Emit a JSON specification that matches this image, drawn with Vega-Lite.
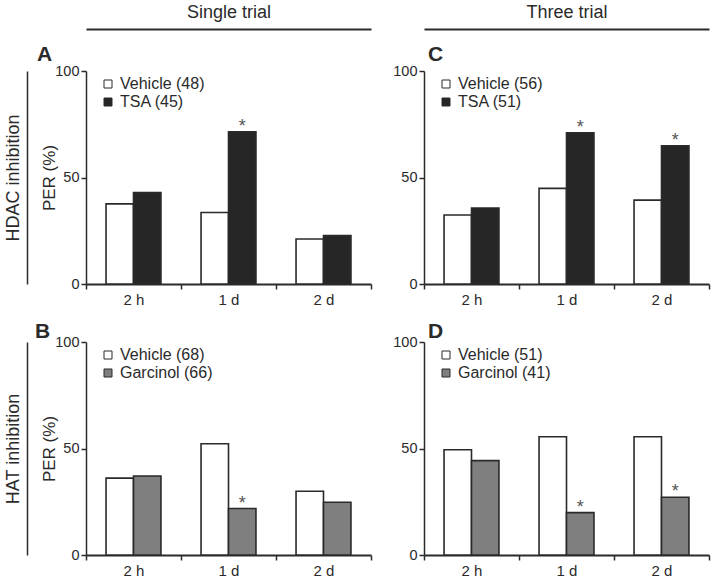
{
  "$schema": "https://vega.github.io/schema/vega-lite/v6.json",
  "background": "white",
  "padding": {"left": 4, "top": 3, "right": 2, "bottom": 2},
  "datasets": {
    "bars": [
      {"panel": "A", "time": "2 h", "grp": "1", "label": "Vehicle (48)", "value": 37.6, "star": ""},
      {"panel": "A", "time": "2 h", "grp": "2", "label": "TSA (45)", "value": 42.9, "star": ""},
      {"panel": "A", "time": "1 d", "grp": "1", "label": "Vehicle (48)", "value": 33.6, "star": ""},
      {"panel": "A", "time": "1 d", "grp": "2", "label": "TSA (45)", "value": 71.5, "star": "*"},
      {"panel": "A", "time": "2 d", "grp": "1", "label": "Vehicle (48)", "value": 21.1, "star": ""},
      {"panel": "A", "time": "2 d", "grp": "2", "label": "TSA (45)", "value": 22.7, "star": ""},
      {"panel": "C", "time": "2 h", "grp": "1", "label": "Vehicle (56)", "value": 32.4, "star": ""},
      {"panel": "C", "time": "2 h", "grp": "2", "label": "TSA (51)", "value": 35.7, "star": ""},
      {"panel": "C", "time": "1 d", "grp": "1", "label": "Vehicle (56)", "value": 44.9, "star": ""},
      {"panel": "C", "time": "1 d", "grp": "2", "label": "TSA (51)", "value": 71.0, "star": "*"},
      {"panel": "C", "time": "2 d", "grp": "1", "label": "Vehicle (56)", "value": 39.4, "star": ""},
      {"panel": "C", "time": "2 d", "grp": "2", "label": "TSA (51)", "value": 64.9, "star": "*"},
      {"panel": "B", "time": "2 h", "grp": "1", "label": "Vehicle (68)", "value": 36.1, "star": ""},
      {"panel": "B", "time": "2 h", "grp": "2", "label": "Garcinol (66)", "value": 37.1, "star": ""},
      {"panel": "B", "time": "1 d", "grp": "1", "label": "Vehicle (68)", "value": 52.2, "star": ""},
      {"panel": "B", "time": "1 d", "grp": "2", "label": "Garcinol (66)", "value": 21.8, "star": "*"},
      {"panel": "B", "time": "2 d", "grp": "1", "label": "Vehicle (68)", "value": 29.9, "star": ""},
      {"panel": "B", "time": "2 d", "grp": "2", "label": "Garcinol (66)", "value": 24.8, "star": ""},
      {"panel": "D", "time": "2 h", "grp": "1", "label": "Vehicle (51)", "value": 49.4, "star": ""},
      {"panel": "D", "time": "2 h", "grp": "2", "label": "Garcinol (41)", "value": 44.3, "star": ""},
      {"panel": "D", "time": "1 d", "grp": "1", "label": "Vehicle (51)", "value": 55.5, "star": ""},
      {"panel": "D", "time": "1 d", "grp": "2", "label": "Garcinol (41)", "value": 19.9, "star": "*"},
      {"panel": "D", "time": "2 d", "grp": "1", "label": "Vehicle (51)", "value": 55.5, "star": ""},
      {"panel": "D", "time": "2 d", "grp": "2", "label": "Garcinol (41)", "value": 27.1, "star": "*"}
    ]
  },
  "columns": 2,
  "bounds": "flush",
  "spacing": {"row": 58, "column": 53},
  "resolve": {
    "scale": {"x": "independent", "y": "independent", "xOffset": "independent", "fill": "independent"},
    "legend": {"fill": "independent"}
  },
  "concat": [
    {
      "width": 285, "height": 213,
      "title": {"text": "A", "anchor": "start", "frame": "group", "baseline": "alphabetic", "offset": 0, "dx": -49, "dy": 79, "fontSize": 21, "fontWeight": "bold", "color": "#2a2a2a"},
      "data": {"name": "bars"},
      "transform": [{"filter": "datum.panel === 'A'"}],
      "layer": [
        {
          "mark": {"type": "bar", "stroke": "#2a2a2a", "strokeWidth": 1.6},
          "encoding": {
            "x": {"field": "time", "type": "nominal", "sort": ["2 h", "1 d", "2 d"], "scale": {"paddingInner": 0, "paddingOuter": 0},
                  "axis": {"orient": "bottom", "title": null, "labelAngle": 0, "labelFontSize": 15, "labelPadding": 3, "tickSize": 5, "tickBand": "extent", "domainWidth": 2, "tickWidth": 1.5}},
            "xOffset": {"field": "grp", "type": "nominal", "scale": {"paddingInner": 0, "paddingOuter": 0.73}},
            "y": {"field": "value", "type": "quantitative", "scale": {"domain": [0, 100]},
                  "axis": {"orient": "left", "values": [0, 50, 100], "title": "PER (%)", "titleFontSize": 17, "titlePadding": -4, "tickSize": 5, "labelFontSize": 14.5, "labelPadding": 2, "domainWidth": 1.5, "tickWidth": 1.5}},
            "fill": {"field": "label", "type": "nominal", "scale": {"domain": ["Vehicle (48)", "TSA (45)"], "range": ["#ffffff", "#262626"]},
                     "legend": {"orient": "none", "legendX": 14, "legendY": 5, "title": null, "symbolType": "square", "symbolSize": 64, "symbolStrokeColor": "#2a2a2a", "symbolStrokeWidth": 1, "labelFontSize": 16, "labelOffset": 4, "rowPadding": 2, "padding": 0, "labelColor": "#2a2a2a"}}
          }
        },
        {
          "mark": {"type": "text", "baseline": "alphabetic", "dy": 0, "fontSize": 18, "color": "#555555"},
          "encoding": {
            "x": {"field": "time", "type": "nominal", "sort": ["2 h", "1 d", "2 d"],
                  "axis": {"orient": "top", "offset": 42, "ticks": false, "labels": false, "domainWidth": 2, "title": "Single trial", "titleFontSize": 18, "titlePadding": 8}},
            "xOffset": {"field": "grp", "type": "nominal"},
            "y": {"field": "value", "type": "quantitative",
                  "axis": {"orient": "left", "offset": 59, "ticks": false, "labels": false, "domainWidth": 1.5, "title": "HDAC inhibition", "titleFontSize": 18, "titlePadding": 5}},
            "text": {"field": "star"}
          }
        }
      ],
      "resolve": {"axis": {"x": "independent", "y": "independent"}}
    },
    {
      "width": 285, "height": 213,
      "title": {"text": "C", "anchor": "start", "frame": "group", "baseline": "alphabetic", "offset": 0, "dx": 4, "dy": 79, "fontSize": 21, "fontWeight": "bold", "color": "#2a2a2a"},
      "data": {"name": "bars"},
      "transform": [{"filter": "datum.panel === 'C'"}],
      "layer": [
        {
          "mark": {"type": "bar", "stroke": "#2a2a2a", "strokeWidth": 1.6},
          "encoding": {
            "x": {"field": "time", "type": "nominal", "sort": ["2 h", "1 d", "2 d"], "scale": {"paddingInner": 0, "paddingOuter": 0},
                  "axis": {"orient": "bottom", "title": null, "labelAngle": 0, "labelFontSize": 15, "labelPadding": 3, "tickSize": 5, "tickBand": "extent", "domainWidth": 2, "tickWidth": 1.5}},
            "xOffset": {"field": "grp", "type": "nominal", "scale": {"paddingInner": 0, "paddingOuter": 0.73}},
            "y": {"field": "value", "type": "quantitative", "scale": {"domain": [0, 100]},
                  "axis": {"orient": "left", "values": [0, 50, 100], "title": null, "tickSize": 5, "labelFontSize": 14.5, "labelPadding": 2, "domainWidth": 1.5, "tickWidth": 1.5}},
            "fill": {"field": "label", "type": "nominal", "scale": {"domain": ["Vehicle (56)", "TSA (51)"], "range": ["#ffffff", "#262626"]},
                     "legend": {"orient": "none", "legendX": 14, "legendY": 5, "title": null, "symbolType": "square", "symbolSize": 64, "symbolStrokeColor": "#2a2a2a", "symbolStrokeWidth": 1, "labelFontSize": 16, "labelOffset": 4, "rowPadding": 2, "padding": 0, "labelColor": "#2a2a2a"}}
          }
        },
        {
          "mark": {"type": "text", "baseline": "alphabetic", "dy": 0, "fontSize": 18, "color": "#555555"},
          "encoding": {
            "x": {"field": "time", "type": "nominal", "sort": ["2 h", "1 d", "2 d"],
                  "axis": {"orient": "top", "offset": 42, "ticks": false, "labels": false, "domainWidth": 2, "title": "Three trial", "titleFontSize": 18, "titlePadding": 8}},
            "xOffset": {"field": "grp", "type": "nominal"},
            "y": {"field": "value", "type": "quantitative", "axis": null},
            "text": {"field": "star"}
          }
        }
      ],
      "resolve": {"axis": {"x": "independent", "y": "independent"}}
    },
    {
      "width": 285, "height": 213,
      "title": {"text": "B", "anchor": "start", "frame": "group", "baseline": "alphabetic", "offset": 0, "dx": -51, "dy": 25, "fontSize": 21, "fontWeight": "bold", "color": "#2a2a2a"},
      "data": {"name": "bars"},
      "transform": [{"filter": "datum.panel === 'B'"}],
      "layer": [
        {
          "mark": {"type": "bar", "stroke": "#2a2a2a", "strokeWidth": 1.6},
          "encoding": {
            "x": {"field": "time", "type": "nominal", "sort": ["2 h", "1 d", "2 d"], "scale": {"paddingInner": 0, "paddingOuter": 0},
                  "axis": {"orient": "bottom", "title": null, "labelAngle": 0, "labelFontSize": 15, "labelPadding": 3, "tickSize": 5, "tickBand": "extent", "domainWidth": 2, "tickWidth": 1.5}},
            "xOffset": {"field": "grp", "type": "nominal", "scale": {"paddingInner": 0, "paddingOuter": 0.73}},
            "y": {"field": "value", "type": "quantitative", "scale": {"domain": [0, 100]},
                  "axis": {"orient": "left", "values": [0, 50, 100], "title": "PER (%)", "titleFontSize": 17, "titlePadding": -4, "tickSize": 5, "labelFontSize": 14.5, "labelPadding": 2, "domainWidth": 1.5, "tickWidth": 1.5}},
            "fill": {"field": "label", "type": "nominal", "scale": {"domain": ["Vehicle (68)", "Garcinol (66)"], "range": ["#ffffff", "#7f7f7f"]},
                     "legend": {"orient": "none", "legendX": 14, "legendY": 5, "title": null, "symbolType": "square", "symbolSize": 64, "symbolStrokeColor": "#2a2a2a", "symbolStrokeWidth": 1, "labelFontSize": 16, "labelOffset": 4, "rowPadding": 2, "padding": 0, "labelColor": "#2a2a2a"}}
          }
        },
        {
          "mark": {"type": "text", "baseline": "alphabetic", "dy": 0, "fontSize": 18, "color": "#555555"},
          "encoding": {
            "x": {"field": "time", "type": "nominal", "sort": ["2 h", "1 d", "2 d"], "axis": null},
            "xOffset": {"field": "grp", "type": "nominal"},
            "y": {"field": "value", "type": "quantitative",
                  "axis": {"orient": "left", "offset": 59, "ticks": false, "labels": false, "domainWidth": 1.5, "title": "HAT inhibition", "titleFontSize": 18, "titlePadding": 5}},
            "text": {"field": "star"}
          }
        }
      ],
      "resolve": {"axis": {"x": "independent", "y": "independent"}}
    },
    {
      "width": 285, "height": 213,
      "title": {"text": "D", "anchor": "start", "frame": "group", "baseline": "alphabetic", "offset": 0, "dx": 4, "dy": 25, "fontSize": 21, "fontWeight": "bold", "color": "#2a2a2a"},
      "data": {"name": "bars"},
      "transform": [{"filter": "datum.panel === 'D'"}],
      "layer": [
        {
          "mark": {"type": "bar", "stroke": "#2a2a2a", "strokeWidth": 1.6},
          "encoding": {
            "x": {"field": "time", "type": "nominal", "sort": ["2 h", "1 d", "2 d"], "scale": {"paddingInner": 0, "paddingOuter": 0},
                  "axis": {"orient": "bottom", "title": null, "labelAngle": 0, "labelFontSize": 15, "labelPadding": 3, "tickSize": 5, "tickBand": "extent", "domainWidth": 2, "tickWidth": 1.5}},
            "xOffset": {"field": "grp", "type": "nominal", "scale": {"paddingInner": 0, "paddingOuter": 0.73}},
            "y": {"field": "value", "type": "quantitative", "scale": {"domain": [0, 100]},
                  "axis": {"orient": "left", "values": [0, 50, 100], "title": null, "tickSize": 5, "labelFontSize": 14.5, "labelPadding": 2, "domainWidth": 1.5, "tickWidth": 1.5}},
            "fill": {"field": "label", "type": "nominal", "scale": {"domain": ["Vehicle (51)", "Garcinol (41)"], "range": ["#ffffff", "#7f7f7f"]},
                     "legend": {"orient": "none", "legendX": 14, "legendY": 5, "title": null, "symbolType": "square", "symbolSize": 64, "symbolStrokeColor": "#2a2a2a", "symbolStrokeWidth": 1, "labelFontSize": 16, "labelOffset": 4, "rowPadding": 2, "padding": 0, "labelColor": "#2a2a2a"}}
          }
        },
        {
          "mark": {"type": "text", "baseline": "alphabetic", "dy": 0, "fontSize": 18, "color": "#555555"},
          "encoding": {
            "x": {"field": "time", "type": "nominal", "sort": ["2 h", "1 d", "2 d"], "axis": null},
            "xOffset": {"field": "grp", "type": "nominal"},
            "y": {"field": "value", "type": "quantitative", "axis": null},
            "text": {"field": "star"}
          }
        }
      ],
      "resolve": {"axis": {"x": "independent", "y": "independent"}}
    }
  ],
  "config": {
    "font": "Liberation Sans",
    "view": {"stroke": null},
    "title": {"font": "Liberation Sans"},
    "axis": {"grid": false, "labelFont": "Liberation Sans", "titleFont": "Liberation Sans", "titleFontWeight": "normal", "labelColor": "#2a2a2a", "titleColor": "#2a2a2a", "domainColor": "#2a2a2a", "tickColor": "#2a2a2a"},
    "legend": {"labelFont": "Liberation Sans"}
  }
}
